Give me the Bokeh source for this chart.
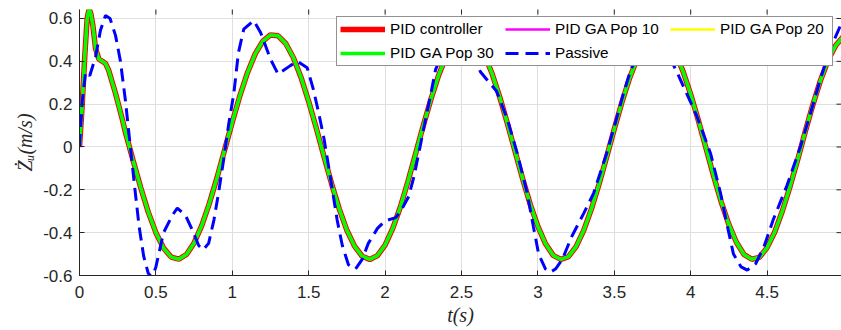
import math
from bokeh.plotting import figure
from bokeh.models import FixedTicker, Legend, LegendItem, Range1d
from bokeh.embed import file_html
from bokeh.resources import INLINE

# ---------------- data ----------------
pid_t = [0.000, 0.017, 0.035, 0.050, 0.063, 0.075, 0.087, 0.105, 0.127, 0.150,
         0.170, 0.190, 0.236, 0.280, 0.30, 0.35, 0.40, 0.45, 0.50, 0.55,
         0.60, 0.65, 0.70, 0.75, 0.80, 0.85, 0.90, 0.95, 1.00, 1.05,
         1.10, 1.15, 1.20, 1.25, 1.30, 1.35, 1.40, 1.45, 1.50, 1.55,
         1.60, 1.65, 1.70, 1.75, 1.80, 1.85, 1.90, 1.95, 2.00, 2.05,
         2.10, 2.15, 2.20, 2.25, 2.30, 2.35, 2.40, 2.45, 2.50, 2.55,
         2.60, 2.65, 2.70, 2.75, 2.80, 2.85, 2.90, 2.95, 3.00, 3.05,
         3.10, 3.15, 3.20, 3.25, 3.30, 3.35, 3.40, 3.45, 3.50, 3.55,
         3.60, 3.65, 3.70, 3.75, 3.80, 3.85, 3.90, 3.95, 4.00, 4.05,
         4.10, 4.15, 4.20, 4.25, 4.30, 4.35, 4.40, 4.45, 4.50, 4.55,
         4.60, 4.65, 4.70, 4.75, 4.80, 4.85, 4.90, 4.95, 5.00]

pid_controller = [0.000, 0.190, 0.430, 0.600, 0.645, 0.620, 0.570, 0.460, 0.410, 0.400,
                  0.390, 0.360, 0.250, 0.130, 0.070, -0.061, -0.188, -0.304, -0.400, -0.472,
                  -0.514, -0.524, -0.502, -0.448, -0.367, -0.263, -0.143, -0.013, 0.117, 0.240,
                  0.348, 0.435, 0.494, 0.523, 0.519, 0.483, 0.417, 0.325, 0.212, 0.087,
                  -0.044, -0.172, -0.289, -0.389, -0.463, -0.510, -0.525, -0.507, -0.458, -0.380,
                  -0.280, -0.160, -0.030, 0.100, 0.223, 0.334, 0.424, 0.487, 0.520, 0.522,
                  0.491, 0.431, 0.343, 0.234, 0.111, -0.019, -0.148, -0.268, -0.371, -0.452,
                  -0.506, -0.525, -0.512, -0.465, -0.389, -0.290, -0.174, -0.047, 0.084, 0.209,
                  0.321, 0.414, 0.481, 0.519, 0.524, 0.497, 0.438, 0.353, 0.246, 0.125,
                  -0.005, -0.135, -0.257, -0.362, -0.446, -0.503, -0.524, -0.515, -0.470, -0.397,
                  -0.299, -0.185, -0.060, 0.072, 0.198, 0.312, 0.406, 0.475, 0.517]

# the three GA-tuned responses lie on top of the PID response
ga_pop10 = list(pid_controller)
ga_pop20 = list(pid_controller)
ga_pop30 = list(pid_controller)

passive_t = [0.000, 0.018, 0.040, 0.067, 0.105, 0.137, 0.170, 0.200, 0.236, 0.268,
             0.300, 0.330, 0.360, 0.390, 0.420, 0.450, 0.475, 0.500, 0.550, 0.607,
             0.640, 0.694, 0.737, 0.780, 0.810, 0.845, 0.880, 0.910, 0.944, 0.977,
             1.010, 1.040, 1.075, 1.140, 1.185, 1.250, 1.300, 1.380, 1.425, 1.490,
             1.530, 1.565, 1.600, 1.630, 1.655, 1.686, 1.720, 1.760, 1.806, 1.850,
             1.890, 1.950, 2.000, 2.070, 2.110, 2.155, 2.190, 2.230, 2.265, 2.300,
             2.330, 2.380, 2.430, 2.470, 2.520, 2.570, 2.625, 2.730, 2.800, 2.865,
             2.930, 2.970, 3.005, 3.050, 3.080, 3.115, 3.160, 3.220, 3.300, 3.365,
             3.450, 3.520, 3.560, 3.610, 3.680, 3.760, 3.840, 3.910, 4.040, 4.130,
             4.195, 4.240, 4.280, 4.330, 4.370, 4.425, 4.480, 4.540, 4.630, 4.720,
             4.785, 4.850, 4.915, 4.980, 5.000]

passive = [0.000, 0.215, 0.350, 0.333, 0.420, 0.544, 0.614, 0.600, 0.520, 0.400,
           0.220, 0.020, -0.180, -0.370, -0.510, -0.590, -0.610, -0.560, -0.400, -0.320,
           -0.285, -0.320, -0.385, -0.460, -0.480, -0.450, -0.340, -0.215, -0.056, 0.110,
           0.250, 0.440, 0.550, 0.590, 0.535, 0.410, 0.340, 0.380, 0.400, 0.370,
           0.270, 0.160, 0.040, -0.090, -0.200, -0.340, -0.460, -0.550, -0.570, -0.525,
           -0.450, -0.380, -0.345, -0.330, -0.290, -0.230, -0.135, 0.005, 0.130, 0.250,
           0.360, 0.450, 0.490, 0.500, 0.480, 0.430, 0.350, 0.260, 0.130, -0.030,
           -0.215, -0.370, -0.500, -0.570, -0.585, -0.570, -0.525, -0.420, -0.310, -0.215,
           -0.030, 0.145, 0.250, 0.365, 0.460, 0.500, 0.450, 0.350, 0.145, -0.030,
           -0.215, -0.370, -0.500, -0.560, -0.575, -0.545, -0.465, -0.340, -0.180, 0.005,
           0.160, 0.320, 0.460, 0.567, 0.590]

series_names = ["PID controller", "PID GA Pop 10", "PID GA Pop 20", "PID GA Pop 30", "Passive"]

x_ticks = [0, 0.5, 1, 1.5, 2, 2.5, 3, 3.5, 4, 4.5, 5]
x_tick_labels = ["0", "0.5", "1", "1.5", "2", "2.5", "3", "3.5", "4", "4.5", "5"]
y_ticks = [-0.6, -0.4, -0.2, 0, 0.2, 0.4, 0.6]
y_tick_labels = ["-0.6", "-0.4", "-0.2", "0", "0.2", "0.4", "0.6"]

x_label = "t(s)"
y_label = "Żᵤ(m/s)"

X_START, X_END = 0, 4.987     # the window cuts the axes just before t = 5
Y_START, Y_END = -0.6, 0.642

# ---------------- figure ----------------
AX = "#262626"
GRID = "#dfdfdf"
TICK_FONT = "Liberation Sans"

p = figure(width=841, height=330,
           x_range=Range1d(X_START, X_END), y_range=Range1d(Y_START, Y_END),
           output_backend="svg", toolbar_location=None,
           min_border_left=79, min_border_right=0, min_border_top=9, min_border_bottom=55)
p.outline_line_color = None
p.background_fill_color = "white"

r_ctrl = p.line(pid_t, pid_controller, line_color="#ff0000", line_width=5.5)
r_p10 = p.line(pid_t, ga_pop10, line_color="#ff00ff", line_width=2.5)
r_p20 = p.line(pid_t, ga_pop20, line_color="#ffff00", line_width=2.5)
r_p30 = p.line(pid_t, ga_pop30, line_color="#00ff00", line_width=3.5)
r_pas = p.line(passive_t, passive, line_color="#0000ff", line_width=3, line_dash="13 7")

# axes
def style_axis(ax, ticks, labels, standoff):
    ax.ticker = FixedTicker(ticks=ticks)
    ax.major_label_overrides = dict(zip(ticks, labels))
    ax.major_tick_in = 5
    ax.major_tick_out = 0
    ax.minor_tick_line_color = None
    ax.major_tick_line_color = AX
    ax.axis_line_color = AX
    ax.axis_line_width = 1
    ax.major_label_text_font = TICK_FONT
    ax.major_label_text_font_size = "17px"
    ax.major_label_text_color = AX
    ax.major_label_standoff = standoff

xa = p.xaxis[0]
style_axis(xa, x_ticks, x_tick_labels, 10)
xa.axis_label = x_label
xa.axis_label_text_font = "Liberation Serif"
xa.axis_label_text_font_style = "italic"
xa.axis_label_text_font_size = "20px"
xa.axis_label_text_color = AX
xa.axis_label_standoff = 3

ya = p.yaxis[0]
style_axis(ya, y_ticks, y_tick_labels, 7)
ya.axis_label = y_label
ya.axis_label_text_font = "Liberation Serif"
ya.axis_label_text_font_style = "italic"
ya.axis_label_text_font_size = "20px"
ya.axis_label_text_color = AX
ya.axis_label_standoff = 4

# box ticks on the top and right edges (half of each dash is clipped by the frame)
p.scatter(x=x_ticks, y=[Y_END] * len(x_ticks), marker="dash", angle=math.pi / 2,
          size=10, line_color=AX, line_width=1)
p.scatter(x=[X_END] * len(y_ticks), y=y_ticks, marker="dash",
          size=10, line_color=AX, line_width=1)

p.xgrid.ticker = FixedTicker(ticks=x_ticks)
p.ygrid.ticker = FixedTicker(ticks=y_ticks)
for g in (p.xgrid[0], p.ygrid[0]):
    g.grid_line_color = GRID
    g.grid_line_width = 1

# legend
renderers = [r_ctrl, r_p10, r_p20, r_p30, r_pas]
legend = Legend(items=[LegendItem(label=n, renderers=[r]) for n, r in zip(series_names, renderers)],
                location=(257, 209), orientation="horizontal", ncols=3,
                glyph_width=45, glyph_height=18, label_height=18, label_width=109,
                label_standoff=5, spacing=6, padding=3, margin=0,
                label_text_font=TICK_FONT, label_text_font_size="15.3px",
                label_text_color="#000000",
                border_line_color=AX, border_line_width=1,
                background_fill_color="white", background_fill_alpha=1.0)
p.add_layout(legend, "center")

open("out.html", "w").write(file_html(p, INLINE))
